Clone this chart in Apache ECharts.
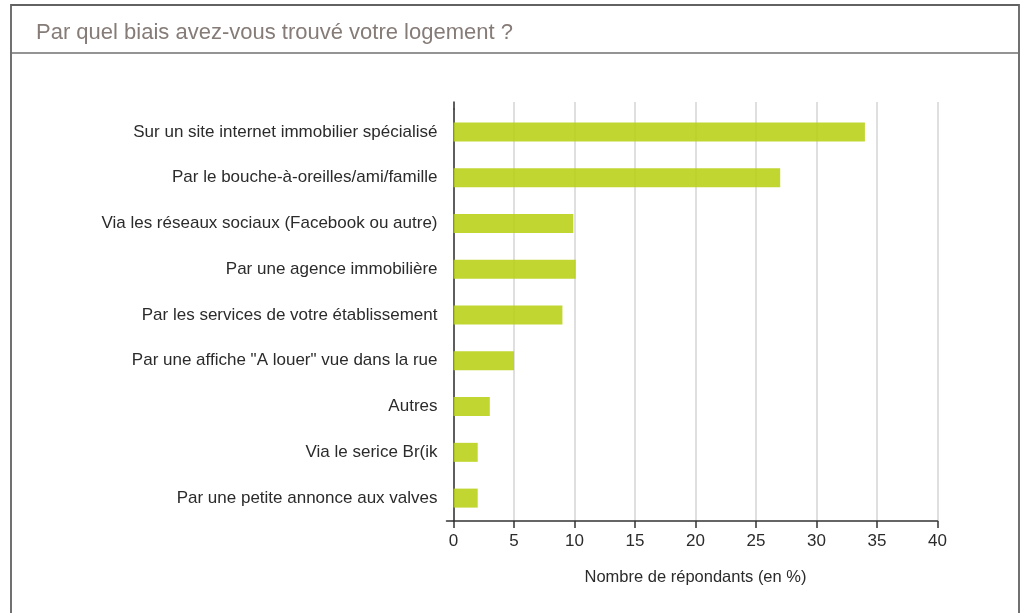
<!DOCTYPE html>
<html>
<head>
<meta charset="utf-8">
<script src="https://cdn.jsdelivr.net/npm/echarts@6/dist/echarts.min.js"></script>
<style>
  html, body { margin: 0; padding: 0; background: #ffffff; }
  #chart { width: 1027px; height: 613px; }
</style>
</head>
<body>
<div id="chart"></div>
<script>
// Survey: how students found their accommodation (share of respondents, %)
const categories = [
  'Sur un site internet immobilier spécialisé',
  'Par le bouche-à-oreilles/ami/famille',
  'Via les réseaux sociaux (Facebook ou autre)',
  'Par une agence immobilière',
  'Par les services de votre établissement',
  'Par une affiche "A louer" vue dans la rue',
  'Autres',
  'Via le serice Br(ik',
  'Par une petite annonce aux valves'
];
const values = [34, 27, 9.9, 10.1, 9, 5, 3, 2, 2];
const xTicks = { min: 0, max: 40, interval: 5 };
const titleText = 'Par quel biais avez-vous trouvé votre logement ?';
const axisTitle = 'Nombre de répondants (en %)';

const FONT = '"Liberation Sans", Arial, sans-serif';
const TEXT = '#2b2b2b';
const gridStyle = { color: '#d4d4d4', width: 1.5 };
const axisStyle = { color: '#333333', width: 1.5 };

const chart = echarts.init(document.getElementById('chart'), null, { renderer: 'canvas' });

chart.setOption({
  backgroundColor: '#ffffff',
  animation: false,
  title: {
    text: titleText,
    left: 31,
    top: 17,
    textStyle: { fontFamily: FONT, fontSize: 22, fontWeight: 'normal', color: '#857b77' }
  },
  graphic: [
    // outer frame and header separator
    { type: 'rect', shape: { x: 11, y: 5, width: 1008, height: 640 },
      style: { fill: 'none', stroke: '#626262', lineWidth: 1.8 }, silent: true },
    { type: 'line', shape: { x1: 11, y1: 53, x2: 1019, y2: 53 },
      style: { stroke: '#707070', lineWidth: 1.5 }, silent: true }
  ],
  grid: [
    // main plot
    { left: 453.5, right: 89.5, top: 109, bottom: 92, containLabel: false },
    // short extension of the vertical axis and grid lines above the first band
    { left: 453.5, right: 89.5, top: 102, height: 7, containLabel: false },
    // short stub of the horizontal axis to the left of zero
    { left: 446.5, width: 7, bottom: 92, height: 1, containLabel: false }
  ],
  xAxis: [
    {
      gridIndex: 0, type: 'value', min: xTicks.min, max: xTicks.max, interval: xTicks.interval,
      name: axisTitle, nameLocation: 'middle', nameGap: 48,
      nameTextStyle: { fontFamily: FONT, fontSize: 16.5, color: TEXT },
      axisLine: { show: true, onZero: false, lineStyle: axisStyle },
      axisTick: { show: true, length: 7, lineStyle: axisStyle },
      axisLabel: { fontFamily: FONT, fontSize: 17, color: TEXT, margin: 12 },
      splitLine: { show: true, lineStyle: gridStyle }
    },
    {
      gridIndex: 1, type: 'value', min: xTicks.min, max: xTicks.max, interval: xTicks.interval,
      axisLine: { show: false }, axisTick: { show: false }, axisLabel: { show: false },
      splitLine: { show: true, lineStyle: gridStyle }
    },
    {
      gridIndex: 2, type: 'value', min: 0, max: 1,
      axisLine: { show: true, onZero: false, lineStyle: axisStyle },
      axisTick: { show: false }, axisLabel: { show: false }, splitLine: { show: false }
    }
  ],
  yAxis: [
    {
      gridIndex: 0, type: 'category', data: categories, inverse: true,
      axisLine: { show: true, onZero: false, lineStyle: axisStyle },
      axisTick: { show: false },
      axisLabel: { fontFamily: FONT, fontSize: 17, color: TEXT, margin: 16 },
      splitLine: { show: false }
    },
    {
      gridIndex: 1, type: 'category', data: [''],
      axisLine: { show: true, onZero: false, lineStyle: axisStyle },
      axisTick: { show: false }, axisLabel: { show: false }, splitLine: { show: false }
    },
    {
      gridIndex: 2, type: 'category', data: [''],
      axisLine: { show: false }, axisTick: { show: false }, axisLabel: { show: false },
      splitLine: { show: false }
    }
  ],
  series: [
    {
      type: 'bar',
      xAxisIndex: 0, yAxisIndex: 0,
      data: values,
      barWidth: 19,
      itemStyle: { color: 'rgba(184, 208, 20, 0.88)' },
      z: 3
    }
  ]
});
</script>
</body>
</html>
